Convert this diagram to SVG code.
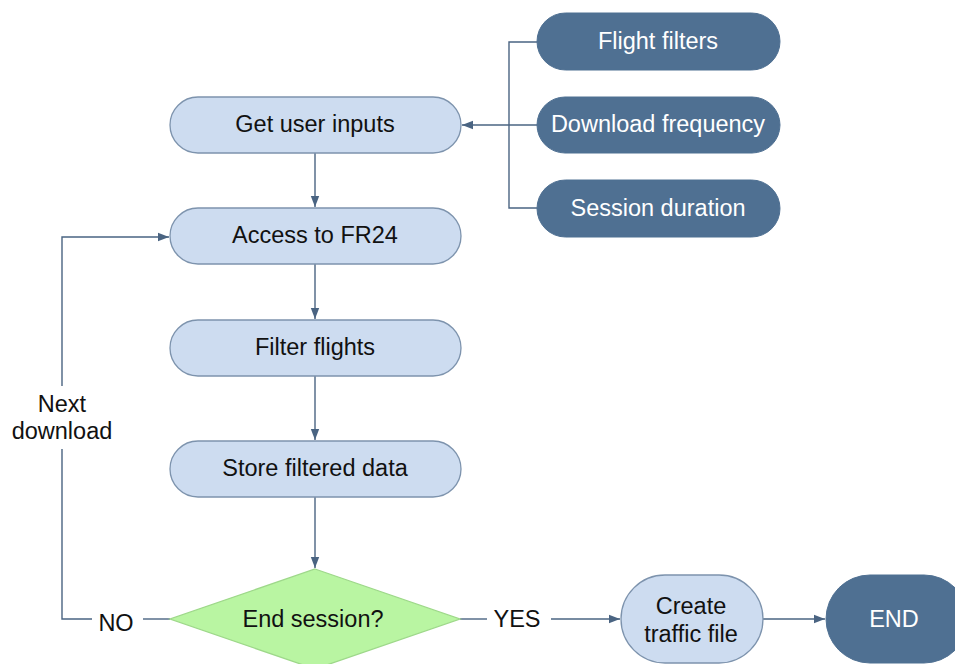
<svg xmlns="http://www.w3.org/2000/svg" width="955" height="664" viewBox="0 0 955 664">
  <defs>
    <marker id="arrow" markerWidth="12" markerHeight="10" refX="11" refY="5" orient="auto" markerUnits="userSpaceOnUse">
      <path d="M0,0.8 L11,5 L0,9.2 Z" fill="#4a6482"/>
    </marker>
    <style>
      .step { fill: #cddcf0; stroke: #7d93ad; stroke-width: 1.3; }
      .input { fill: #4f7092; stroke: #4f7092; stroke-width: 1; }
      .decision { fill: #b9f5a2; stroke: #9ed88a; stroke-width: 1.3; }
      .dark-text { font-family: "Liberation Sans", Arial, sans-serif; font-size: 23.5px; fill: #111111; text-anchor: middle; }
      .light-text { font-family: "Liberation Sans", Arial, sans-serif; font-size: 23.5px; fill: #ffffff; text-anchor: middle; }
      .link { fill: none; stroke: #4a6482; stroke-width: 1.4; }
    </style>
  </defs>
  <rect width="955" height="664" fill="#ffffff"/>

  <!-- connectors -->
  <g id="connectors">
    <path class="link" d="M537,42 H509 V208 H537"/>
    <path class="link" d="M537,125 H462" marker-end="url(#arrow)"/>
    <path class="link" d="M315,153 V207" marker-end="url(#arrow)"/>
    <path class="link" d="M315,264 V319" marker-end="url(#arrow)"/>
    <path class="link" d="M315,376 V440" marker-end="url(#arrow)"/>
    <path class="link" d="M315,497 V568" marker-end="url(#arrow)"/>
    <path class="link" d="M170,619 H143"/>
    <path class="link" d="M92,619 H62 V449"/>
    <path class="link" d="M62,386 V237 H169" marker-end="url(#arrow)"/>
    <path class="link" d="M460,619 H487"/>
    <path class="link" d="M551,619 H620" marker-end="url(#arrow)"/>
    <path class="link" d="M763,619 H825" marker-end="url(#arrow)"/>
    <text class="dark-text" x="62" y="412">Next</text>
    <text class="dark-text" x="62" y="439">download</text>
    <text class="dark-text" x="116" y="631">NO</text>
    <text class="dark-text" x="517" y="627">YES</text>
  </g>

  <g id="flight-filters">
    <rect class="input" x="537" y="13" width="243" height="57" rx="28.5"/>
    <text class="light-text" x="658" y="49">Flight filters</text>
  </g>
  <g id="download-frequency">
    <rect class="input" x="537" y="97" width="243" height="56" rx="28"/>
    <text class="light-text" x="658" y="132">Download frequency</text>
  </g>
  <g id="session-duration">
    <rect class="input" x="537" y="180" width="243" height="57" rx="28.5"/>
    <text class="light-text" x="658" y="216">Session duration</text>
  </g>

  <g id="get-user-inputs">
    <rect class="step" x="170" y="97" width="291" height="56" rx="28"/>
    <text class="dark-text" x="315" y="132">Get user inputs</text>
  </g>
  <g id="access-fr24">
    <rect class="step" x="170" y="208" width="291" height="56" rx="28"/>
    <text class="dark-text" x="315" y="243">Access to FR24</text>
  </g>
  <g id="filter-flights">
    <rect class="step" x="170" y="320" width="291" height="56" rx="28"/>
    <text class="dark-text" x="315" y="355">Filter flights</text>
  </g>
  <g id="store-data">
    <rect class="step" x="170" y="441" width="291" height="56" rx="28"/>
    <text class="dark-text" x="315" y="476">Store filtered data</text>
  </g>

  <g id="end-session">
    <polygon class="decision" points="315,569 460,619 315,669 170,619"/>
    <text class="dark-text" x="313" y="627">End session?</text>
  </g>

  <g id="create-traffic-file">
    <rect class="step" x="621" y="575" width="142" height="88" rx="44"/>
    <text class="dark-text" x="691" y="614">Create</text>
    <text class="dark-text" x="691" y="642">traffic file</text>
  </g>

  <g id="end">
    <rect class="input" x="826" y="575" width="142" height="88" rx="44"/>
    <text class="light-text" x="894" y="627">END</text>
  </g>
</svg>
